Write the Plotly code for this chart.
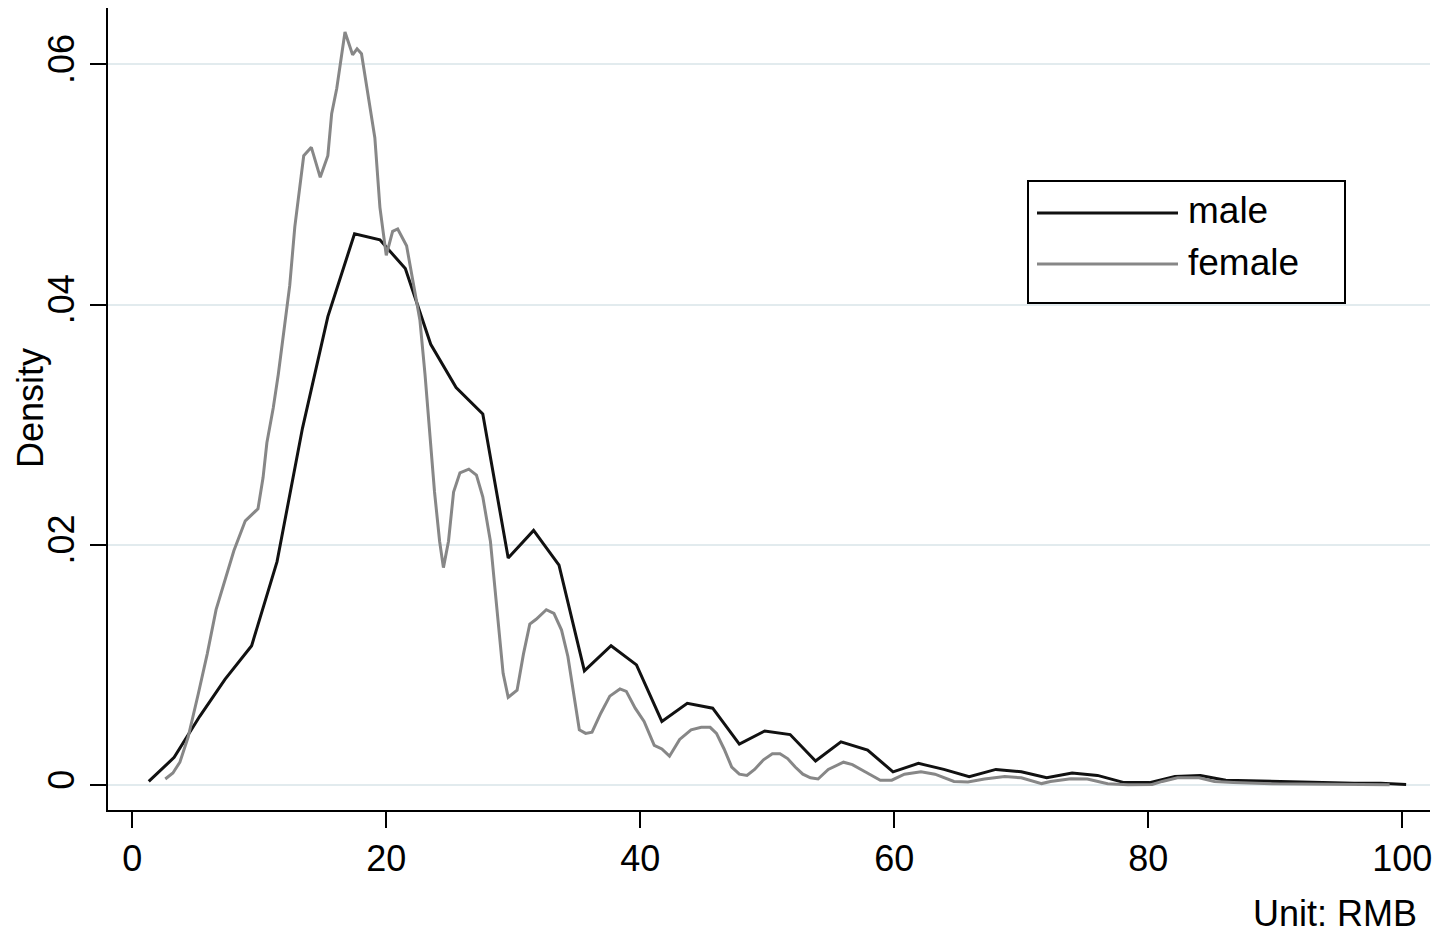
import plotly.graph_objects as go

# ---- data ----
male_x = [1.3, 3.3, 5.3, 7.3, 9.4, 11.4, 13.4, 15.4, 17.5, 19.5, 21.5, 23.5, 25.5, 27.6,
          29.6, 31.6, 33.6, 35.6, 37.7, 39.7, 41.7, 43.7, 45.7, 47.8, 49.8, 51.8, 53.8,
          55.8, 57.9, 59.9, 61.9, 63.9, 65.9, 68.0, 70.0, 72.0, 74.0, 76.0, 78.1, 80.1,
          82.1, 84.1, 86.1, 88.2, 90.2, 92.2, 94.2, 96.2, 98.3, 100.3]
male_y = [0.0003, 0.0023, 0.0057, 0.0088, 0.0116, 0.0186, 0.0297, 0.0390, 0.0459, 0.0454,
          0.0430, 0.0367, 0.0331, 0.0309, 0.0189, 0.0212, 0.0183, 0.0095, 0.0116, 0.0100,
          0.0053, 0.0068, 0.0064, 0.0034, 0.0045, 0.0042, 0.0020, 0.0036, 0.0029, 0.0011,
          0.0018, 0.0013, 0.0007, 0.0013, 0.0011, 0.0006, 0.0010, 0.0008, 0.0002, 0.0002,
          0.0007, 0.0008, 0.0004, 0.00035, 0.00025, 0.0002, 0.00017, 0.00015, 0.00014, 0.00004]

female_x = [2.6, 3.2, 3.75, 4.4, 5.2, 5.9, 6.6, 7.3, 8.0, 8.9, 9.9, 10.3, 10.6, 11.1, 11.5,
            12.0, 12.4, 12.8, 13.5, 14.1, 14.8, 15.4, 15.7, 16.1, 16.75, 17.35, 17.7, 18.05,
            18.6, 19.1, 19.5, 20.0, 20.5, 20.9, 21.6, 22.1, 22.65, 23.05, 23.4, 23.8, 24.2,
            24.5, 24.9, 25.3, 25.8, 26.5, 27.1, 27.6, 28.2, 28.7, 29.2, 29.6, 30.3, 30.8,
            31.3, 31.8, 32.6, 33.2, 33.8, 34.3, 34.8, 35.2, 35.7, 36.2, 36.9, 37.6, 38.4,
            38.9, 39.6, 40.3, 41.1, 41.7, 42.3, 43.1, 44.0, 44.8, 45.5, 46.0, 46.6, 47.2,
            47.8, 48.4, 49.0, 49.7, 50.4, 51.0, 51.6, 52.2, 52.8, 53.4, 54.0, 54.8, 56.0,
            56.7, 57.7, 58.9, 59.8, 60.8, 62.1, 63.2, 64.7, 65.8, 67.1, 68.7, 70.0, 71.6,
            72.3, 73.9, 75.2, 76.8, 78.4, 80.3, 81.1, 82.3, 84.0, 85.2, 86.7, 89.7, 94.5, 99.0]
female_y = [0.0005, 0.0010, 0.0019, 0.0040, 0.0076, 0.0109, 0.0146, 0.0171, 0.0195, 0.0220,
            0.0230, 0.0256, 0.0285, 0.0314, 0.0342, 0.0383, 0.0416, 0.0465, 0.0524, 0.0531,
            0.0506, 0.0524, 0.0559, 0.0580, 0.0627, 0.0608, 0.0613, 0.0609, 0.0571, 0.0539,
            0.0481, 0.0441, 0.0461, 0.0463, 0.0449, 0.0420, 0.0387, 0.0342, 0.0293, 0.0244,
            0.0203, 0.0181, 0.0203, 0.0244, 0.0260, 0.0263, 0.0258, 0.0240, 0.0203, 0.0146,
            0.0093, 0.0073, 0.0079, 0.0109, 0.0134, 0.0138, 0.0146, 0.0143, 0.0129, 0.0107,
            0.0071, 0.0046, 0.0043, 0.0044, 0.0060, 0.0074, 0.0080, 0.0078, 0.0064, 0.0053,
            0.0033, 0.0030, 0.0024, 0.0038, 0.0046, 0.0048, 0.0048, 0.0043, 0.0030, 0.0015,
            0.0009, 0.0008, 0.0013, 0.0021, 0.0026, 0.0026, 0.0022, 0.0015, 0.0009, 0.0006,
            0.0005, 0.0013, 0.0019, 0.0017, 0.0011, 0.0004, 0.0004, 0.0009, 0.0011, 0.0009,
            0.0003, 0.00025, 0.0005, 0.0007, 0.0006, 0.00012, 0.0003, 0.00053, 0.0005, 0.0001,
            0.00003, 0.00005, 0.0003, 0.0006, 0.0006, 0.0003, 0.00022, 0.00011, 0.00006, 0.00003]

x_ticks = [0, 20, 40, 60, 80, 100]
x_ticktext = ["0", "20", "40", "60", "80", "100"]
y_ticks = [0, 0.02, 0.04, 0.06]
y_ticktext = ["0", ".02", ".04", ".06"]
series_names = ["male", "female"]
series_colors = ["#111111", "#878787"]
y_title = "Density"
x_note = "Unit: RMB"

# ---- layout geometry (page pixels; the page body has an 8px margin) ----
OFF = 8
W, H = 1441 - OFF, 938 - OFF
L, R, T, B = 108, 1430, 8, 810          # plot area in page pixels
FONT = "Arial, 'Liberation Sans', Helvetica, sans-serif"


def px(xp):
    return (xp - L) / (R - L)


def py(yp):
    return (B - yp) / (B - T)


fig = go.Figure()
for xs, ys, name, col in zip([male_x, female_x], [male_y, female_y], series_names, series_colors):
    fig.add_trace(go.Scatter(x=xs, y=ys, mode="lines", name=name,
                             line=dict(color=col, width=3), showlegend=False))

axis_common = dict(showline=True, linecolor="black", linewidth=2.4,
                   ticks="outside", ticklen=16, tickwidth=2.4, tickcolor="black",
                   tickfont=dict(family=FONT, size=36, color="black"),
                   zeroline=False)

fig.update_xaxes(range=[-1.91, 102.18], tickvals=x_ticks, ticktext=x_ticktext,
                 showgrid=False, **axis_common)
fig.update_yaxes(range=[-0.00208, 0.0647], tickvals=y_ticks, ticktext=y_ticktext,
                 tickangle=-90, showgrid=True, gridcolor="#e2ebee", gridwidth=2,
                 ticklabelstandoff=1, **axis_common)

# legend box drawn manually (Stata style)
shapes = [
    dict(type="rect", xref="paper", yref="paper", x0=px(1028), x1=px(1345),
         y0=py(303), y1=py(181), line=dict(color="black", width=2), fillcolor="white",
         layer="above"),
]
annotations = []
legend_rows = [213, 264]
for name, col, yrow in zip(series_names, series_colors, legend_rows):
    shapes.append(dict(type="line", xref="paper", yref="paper", x0=px(1037), x1=px(1178),
                       y0=py(yrow), y1=py(yrow), line=dict(color=col, width=3),
                       layer="above"))
    annotations.append(dict(text=name, xref="paper", yref="paper", x=px(1186), y=py(yrow - 2),
                            xanchor="left", yanchor="middle", showarrow=False,
                            font=dict(family=FONT, size=37, color="black")))

annotations.append(dict(text=y_title, xref="paper", yref="paper", x=px(30), y=py(408),
                        xanchor="center", yanchor="middle", textangle=-90, showarrow=False,
                        borderpad=0, font=dict(family=FONT, size=36, color="black")))
annotations.append(dict(text=x_note, xref="paper", yref="paper", x=px(1418), y=py(914),
                        xanchor="right", yanchor="middle", showarrow=False,
                        borderpad=0, font=dict(family=FONT, size=36, color="black")))

fig.update_layout(width=W, height=H, autosize=False,
                  margin=dict(l=L - OFF, r=W - (R - OFF), t=T - OFF, b=H - (B - OFF), pad=0),
                  plot_bgcolor="white", paper_bgcolor="white",
                  shapes=shapes, annotations=annotations, showlegend=False)

fig.write_html("out.html")
